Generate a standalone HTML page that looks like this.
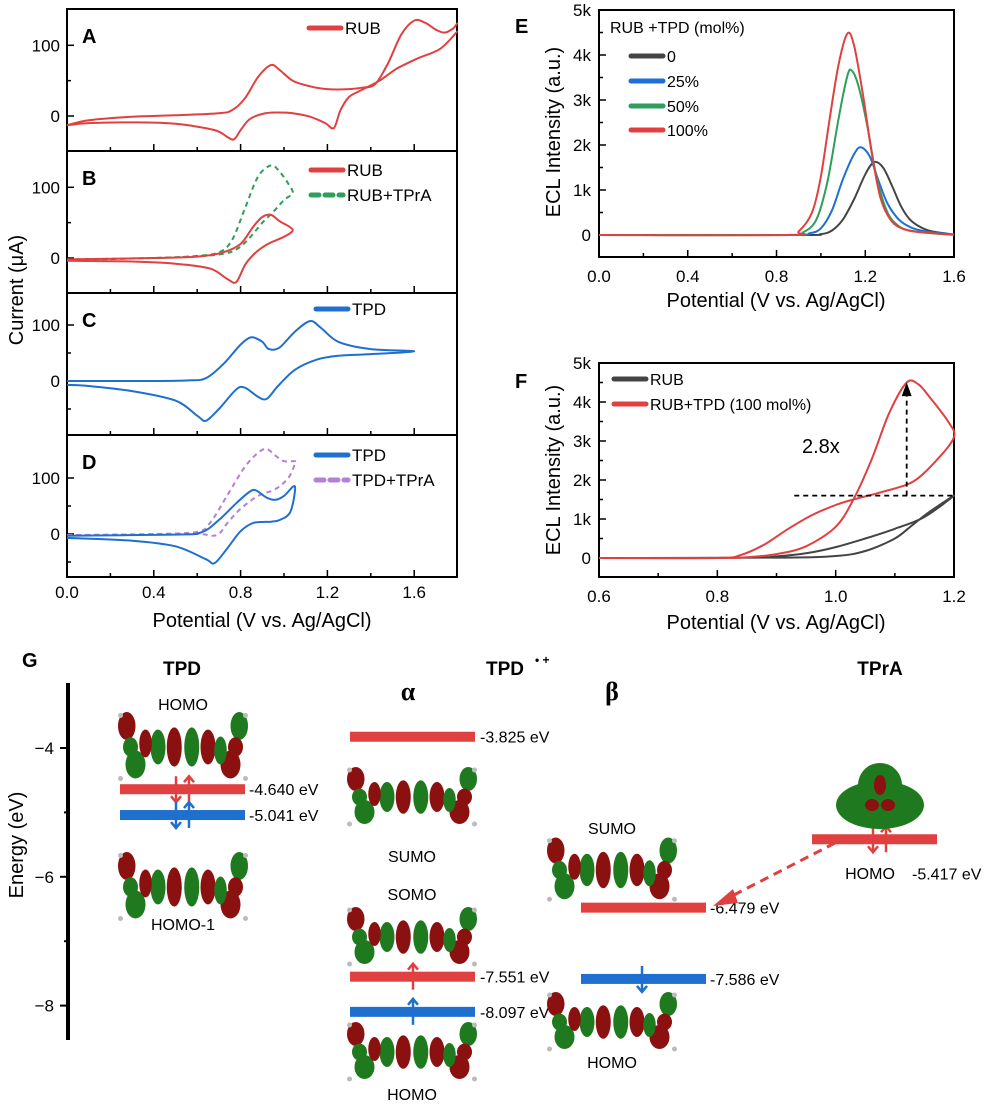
<!DOCTYPE html>
<html><head><meta charset="utf-8">
<style>
html,body{margin:0;padding:0;background:#fff;}
svg{display:block;font-family:"Liberation Sans","DejaVu Sans",sans-serif;}
</style></head>
<body>
<svg id="fig" width="1003" height="1106" viewBox="0 0 1003 1106" xmlns="http://www.w3.org/2000/svg"></svg>
<script>
// ---------- DATA ----------
const xTicksCV = [0.0,0.4,0.8,1.2,1.6];
const xTicksE = [0.0,0.4,0.8,1.2,1.6];
const xTicksF = [0.6,0.8,1.0,1.2];
const yTicksK = [0,1,2,3,4,5];
const rubA_fwd = [[0,-13],[0.1,-6],[0.3,-1],[0.5,1],[0.7,4],[0.76,8],[0.82,25],[0.88,55],[0.94,72],[0.98,65],[1.04,50],[1.12,42],[1.2,38],[1.3,38],[1.36,40],[1.42,45],[1.48,75],[1.54,115],[1.6,135],[1.65,132],[1.7,122],[1.74,118],[1.78,124],[1.8,132]];
const rubA_rev = [[1.8,120],[1.72,95],[1.62,82],[1.52,67],[1.44,50],[1.36,37],[1.3,27],[1.26,8],[1.23,-17],[1.19,-10],[1.12,-1],[1.04,4],[0.96,5],[0.9,3],[0.84,-5],[0.8,-20],[0.77,-33],[0.74,-30],[0.68,-20],[0.5,-11],[0.3,-9],[0.1,-10],[0,-13]];
const rubB = [[0,-2],[0.4,0],[0.6,2],[0.72,8],[0.8,20],[0.86,45],[0.9,58],[0.94,61],[0.98,52],[1.04,40],[1.0,30],[0.94,22],[0.9,15],[0.86,5],[0.82,-10],[0.78,-34],[0.74,-30],[0.66,-15],[0.5,-8],[0.3,-5],[0,-4]];
const rubTprB = [[0,-2],[0.4,0],[0.6,3],[0.7,8],[0.76,25],[0.82,70],[0.88,115],[0.94,131],[0.98,122],[1.02,105],[1.04,92],[1.0,82],[0.95,65],[0.9,50],[0.84,28],[0.78,12],[0.7,5],[0.5,1],[0,-3]];
const tpdC = [[0,0],[0.4,0],[0.56,1],[0.64,5],[0.72,30],[0.8,65],[0.85,78],[0.9,70],[0.93,57],[0.98,60],[1.05,88],[1.12,107],[1.17,95],[1.25,70],[1.4,57],[1.6,53],[1.4,48],[1.25,45],[1.15,38],[1.05,20],[0.97,-10],[0.92,-32],[0.88,-28],[0.82,-12],[0.78,-15],[0.7,-50],[0.64,-71],[0.6,-62],[0.5,-35],[0.3,-18],[0.1,-9],[0,-7]];
const tpdD = [[0,-3],[0.5,-1],[0.62,3],[0.7,25],[0.78,55],[0.84,75],[0.87,78],[0.92,65],[0.96,61],[1.0,68],[1.05,85],[1.03,40],[0.98,25],[0.94,22],[0.86,20],[0.8,5],[0.74,-25],[0.68,-52],[0.64,-45],[0.5,-22],[0.3,-12],[0,-7]];
const tpdTprD = [[0,-2],[0.4,0],[0.6,4],[0.66,20],[0.74,70],[0.82,120],[0.88,145],[0.92,152],[0.96,140],[1.0,130],[1.05,130],[1.05,125],[1.02,100],[0.96,80],[0.88,68],[0.8,45],[0.74,20],[0.7,0],[0.66,-3],[0.6,0],[0.3,-1],[0,-2]];
const ecl0 = [[0,0],[0.9,0],[1.0,20],[1.05,100],[1.1,350],[1.15,800],[1.2,1350],[1.24,1620],[1.28,1500],[1.32,1100],[1.36,650],[1.4,350],[1.45,170],[1.5,80],[1.6,10]];
const ecl25 = [[0,0],[0.85,0],[0.95,40],[1.0,150],[1.05,550],[1.1,1250],[1.15,1800],[1.18,1950],[1.22,1750],[1.26,1200],[1.3,700],[1.35,350],[1.4,180],[1.45,100],[1.5,60],[1.6,10]];
const ecl50 = [[0,0],[0.85,0],[0.92,60],[0.98,350],[1.03,1200],[1.08,2600],[1.12,3550],[1.14,3650],[1.17,3300],[1.21,2400],[1.25,1300],[1.3,500],[1.35,200],[1.4,100],[1.5,40],[1.6,5]];
const ecl100 = [[0,0],[0.85,0],[0.9,80],[0.96,500],[1.0,1300],[1.04,2600],[1.08,3800],[1.12,4480],[1.15,4200],[1.19,3100],[1.23,1800],[1.27,800],[1.32,300],[1.38,120],[1.45,60],[1.6,5]];
const fRubTpd = [[0.6,0],[0.8,0],[0.85,20],[0.9,100],[0.95,300],[1.0,800],[1.03,1500],[1.06,2500],[1.09,3700],[1.12,4500],[1.14,4450],[1.16,4100],[1.19,3500],[1.2,3100],[1.17,2500],[1.13,1950],[1.08,1700],[1.03,1500],[1.0,1360],[0.96,1100],[0.92,750],[0.88,350],[0.84,80],[0.8,0],[0.6,0]];
const fRub = [[0.6,0],[0.9,10],[1.0,50],[1.05,180],[1.1,500],[1.13,850],[1.16,1200],[1.2,1600],[1.15,1050],[1.1,750],[1.05,500],[1.0,280],[0.95,120],[0.9,40],[0.85,5],[0.6,0]];
const levelNames = ["tpd-homo","tpd-homo-1","alpha-sumo","alpha-somo","alpha-homo","beta-sumo","beta-homo","tpra-homo"];
const levelEnergies = [-4.640,-5.041,-3.825,-7.551,-8.097,-6.479,-7.586,-5.417];
const energyTicks = [-4,-6,-8];

// ---------- HELPERS ----------
const svg = document.getElementById('fig');
const NS = 'http://www.w3.org/2000/svg';
function mk(tag, attrs, parent){
  const e = document.createElementNS(NS, tag);
  for (const k in attrs) e.setAttribute(k, attrs[k]);
  (parent||svg).appendChild(e);
  return e;
}
function txt(x,y,s,size,opts,parent){
  opts = opts||{};
  const t = mk('text',{x:x,y:y,'font-size':size,'text-anchor':opts.anchor||'start',fill:opts.fill||'#000','font-weight':opts.weight||'normal'},parent);
  if(opts.family) t.setAttribute('font-family',opts.family);
  if(opts.rot) t.setAttribute('transform','rotate(-90 '+x+' '+y+')');
  t.textContent = s;
  return t;
}
function smoothPath(pts){
  if(pts.length<2) return '';
  let d = 'M'+pts[0][0].toFixed(1)+','+pts[0][1].toFixed(1);
  for(let i=0;i<pts.length-1;i++){
    const p0=pts[Math.max(0,i-1)],p1=pts[i],p2=pts[i+1],p3=pts[Math.min(pts.length-1,i+2)];
    const t=0.16;
    const c1x=p1[0]+(p2[0]-p0[0])*t, c1y=p1[1]+(p2[1]-p0[1])*t;
    const c2x=p2[0]-(p3[0]-p1[0])*t, c2y=p2[1]-(p3[1]-p1[1])*t;
    d+=' C'+c1x.toFixed(1)+','+c1y.toFixed(1)+' '+c2x.toFixed(1)+','+c2y.toFixed(1)+' '+p2[0].toFixed(1)+','+p2[1].toFixed(1);
  }
  return d;
}
function curve(data, sx, sy, color, name, dash, w){
  const pts = data.map(p=>[sx(p[0]), sy(p[1])]);
  const p = mk('path',{d:smoothPath(pts),fill:'none',stroke:color,'stroke-width':w||2,'stroke-linejoin':'round'});
  if(dash) p.setAttribute('stroke-dasharray',dash);
  
  
  return p;
}
const RED='#e0403f', GREEN='#2e9e5b', BLUE='#1f6fcf', PURPLE='#b47fd6', GRAY='#444', EBLUE='#1d6fd6', EGREEN='#2e9e5b';

// ---------- CV PANELS A-D ----------
const cvX = v => 67 + v*217;
const panels = [
  {name:'A', top:9, bot:151, zero:116, k:0.707, ticks:[0,100]},
  {name:'B', top:151, bot:293, zero:258, k:0.707, ticks:[0,100]},
  {name:'C', top:293, bot:435, zero:381, k:0.56, ticks:[0,100]},
  {name:'D', top:435, bot:577, zero:534, k:0.56, ticks:[0,100]}
];
panels.forEach(P=>{
  const g = mk('g',{});
  
  
  const r = mk('rect',{x:67,y:P.top,width:390,height:P.bot-P.top,fill:'none',stroke:'#000','stroke-width':2},g);
   
  P.ticks.forEach(t=>{
    const y = P.zero - t*P.k;
    mk('line',{x1:67,y1:y,x2:74,y2:y,stroke:'#000','stroke-width':1.5},g);
    const lb = txt(60,y+6,String(t),17,{anchor:'end'},g);
     
  });
  [-50,50].forEach(t=>{const y=P.zero-t*P.k; if(y>P.top+3&&y<P.bot-3) mk('line',{x1:67,y1:y,x2:71,y2:y,stroke:'#000','stroke-width':1.5},g);});
  for(let v=0.2; v<1.79; v+=0.2){
    const x=cvX(v), major = Math.round(v*10)%4===0;
    mk('line',{x1:x,y1:P.bot,x2:x,y2:P.bot-(major?7:4),stroke:'#000','stroke-width':1.5},g);
  }
  const lt = txt(82,P.top+34,P.name,20,{weight:'bold'},g);
   
  P.g=g;
});
const sA = i=>panels[0].zero - i*panels[0].k;
const sB = i=>panels[1].zero - i*panels[1].k;
const sC = i=>panels[2].zero - i*panels[2].k;
const sD = i=>panels[3].zero - i*panels[3].k;
curve(rubA_fwd,cvX,sA,RED,'rub-cv-forward');
curve(rubA_rev,cvX,sA,RED,'rub-cv-reverse');
curve(rubTprB,cvX,sB,GREEN,'rub-tpra-cv','5,4');
curve(rubB,cvX,sB,RED,'rub-cv-b');
curve(tpdC,cvX,sC,BLUE,'tpd-cv');
curve(tpdTprD,cvX,sD,PURPLE,'tpd-tpra-cv','5,4');
curve(tpdD,cvX,sD,BLUE,'tpd-cv-d');
function legend(x,y,color,label,dash,name,size){
  const l = mk('line',{x1:x,y1:y,x2:x+32,y2:y,stroke:color,'stroke-width':5,'stroke-linecap':'round'});
  if(dash) l.setAttribute('stroke-dasharray',dash);
   
  const t = txt(x+36,y+6,label,size||17);
   
}
legend(309,28,RED,'RUB',null,'legend-rub-a');
legend(311,170,RED,'RUB',null,'legend-rub-b');
legend(311,195,GREEN,'RUB+TPrA','8,6','legend-rub-tpra');
legend(316,309,BLUE,'TPD',null,'legend-tpd-c');
legend(316,455,BLUE,'TPD',null,'legend-tpd-d');
legend(316,480,PURPLE,'TPD+TPrA','8,6','legend-tpd-tpra');
xTicksCV.forEach(v=>{const t=txt(cvX(v),598,v.toFixed(1),17,{anchor:'middle'});  });
{const t=txt(262,627,'Potential (V vs. Ag/AgCl)',20,{anchor:'middle'});  }
{const t=txt(23,290,'Current (μA)',20,{anchor:'middle',rot:true});  }

// ---------- PANEL E ----------
const eX = v => 599 + v*221.9;
const eY = k => 235 - k*0.045;
{
  const r=mk('rect',{x:599,y:10,width:355,height:247,fill:'none',stroke:'#000','stroke-width':2});
   
  yTicksK.forEach(k=>{const y=eY(k*1000); mk('line',{x1:599,y1:y,x2:606,y2:y,stroke:'#000','stroke-width':1.5});
    const t=txt(591,y+6,k===0?'0':k+'k',17,{anchor:'end'});  
    if(k<5) mk('line',{x1:599,y1:y-22.5,x2:603,y2:y-22.5,stroke:'#000','stroke-width':1.5});});
  for(let v=0.2;v<1.59;v+=0.2){const major=Math.round(v*10)%4===0; mk('line',{x1:eX(v),y1:257,x2:eX(v),y2:257-(major?7:4),stroke:'#000','stroke-width':1.5});}
  xTicksE.forEach(v=>{const t=txt(eX(v),282,v.toFixed(1),17,{anchor:'middle'});  });
  const tt=txt(776,307,'Potential (V vs. Ag/AgCl)',20,{anchor:'middle'});  
  const ty=txt(560,132,'ECL Intensity (a.u.)',20,{anchor:'middle',rot:true});  
  const pl=txt(515,33,'E',20,{weight:'bold'});  
  curve(ecl0,eX,eY,GRAY,'ecl-0');
  curve(ecl25,eX,eY,EBLUE,'ecl-25');
  curve(ecl50,eX,eY,EGREEN,'ecl-50');
  curve(ecl100,eX,eY,RED,'ecl-100');
  const lt=txt(610,33,'RUB +TPD (mol%)',16);  
  legend(631,56,GRAY,'0',null,'legend-0',16);
  legend(631,81,EBLUE,'25%',null,'legend-25',16);
  legend(631,106,EGREEN,'50%',null,'legend-50',16);
  legend(631,130,RED,'100%',null,'legend-100',16);
}

// ---------- PANEL F ----------
const fX = v => 599 + (v-0.6)*591.7;
const fY = k => 558 - k*0.039;
{
  const r=mk('rect',{x:599,y:363,width:355,height:214,fill:'none',stroke:'#000','stroke-width':2});
   
  yTicksK.forEach(k=>{const y=fY(k*1000); mk('line',{x1:599,y1:y,x2:606,y2:y,stroke:'#000','stroke-width':1.5});
    const t=txt(591,y+6,k===0?'0':k+'k',17,{anchor:'end'});  
    if(k<5) mk('line',{x1:599,y1:y-19.5,x2:603,y2:y-19.5,stroke:'#000','stroke-width':1.5});});
  for(let v=0.7;v<1.19;v+=0.1){const major=Math.round(v*10)%2===0; mk('line',{x1:fX(v),y1:577,x2:fX(v),y2:577-(major?7:4),stroke:'#000','stroke-width':1.5});}
  xTicksF.forEach(v=>{const t=txt(fX(v),602,v.toFixed(1),17,{anchor:'middle'});  });
  const tt=txt(776,629,'Potential (V vs. Ag/AgCl)',20,{anchor:'middle'});  
  const ty=txt(560,470,'ECL Intensity (a.u.)',20,{anchor:'middle',rot:true});  
  const pl=txt(515,388,'F',20,{weight:'bold'});  
  curve(fRub,fX,fY,GRAY,'ecl-rub-f');
  curve(fRubTpd,fX,fY,RED,'ecl-rub-tpd-f');
  const hl=mk('line',{x1:fX(0.93),y1:fY(1600),x2:fX(1.2),y2:fY(1600),stroke:'#000','stroke-width':1.8,'stroke-dasharray':'5,4'});
   
  const vl=mk('line',{x1:fX(1.12),y1:fY(1600),x2:fX(1.12),y2:fY(4300),stroke:'#000','stroke-width':1.8,'stroke-dasharray':'5,4'});
   
  const ah=mk('path',{d:'M'+(fX(1.12)-5)+','+(fY(4150))+' L'+fX(1.12)+','+fY(4500)+' L'+(fX(1.12)+5)+','+fY(4150)+' Z',fill:'#000'});
   
  const t28=txt(802,453,'2.8x',20);  
  legend(614,379,GRAY,'RUB',null,'legend-rub-f',16);
  legend(614,404,RED,'RUB+TPD (100 mol%)',null,'legend-rub-tpd-f',16);
}

// ---------- PANEL G ----------
const gY = E => 748 + (-4 - E)*64.4;
{
  const ax=mk('line',{x1:68,y1:683,x2:68,y2:1040,stroke:'#000','stroke-width':4});
   
  energyTicks.forEach(e=>{const y=gY(e); mk('line',{x1:60,y1:y,x2:68,y2:y,stroke:'#000','stroke-width':2});
    const t=txt(54,y+6,'−'+Math.abs(e),17,{anchor:'end'});  });
  [-5,-7].forEach(e=>mk('line',{x1:64,y1:gY(e),x2:68,y2:gY(e),stroke:'#000','stroke-width':2}));
  const ty=txt(23,845,'Energy (eV)',20,{anchor:'middle',rot:true});  
  const pl=txt(22,667,'G',20,{weight:'bold'});  
  const h1=txt(182,675,'TPD',19,{anchor:'middle',weight:'bold'});  
  const h2=txt(505,675,'TPD',19,{anchor:'middle',weight:'bold'});  
  const h2b=txt(535,664,'• +',12,{weight:'bold'});  
  const h3=txt(880,675,'TPrA',19,{anchor:'middle',weight:'bold'});  
  const al=txt(408,700,'α',26,{anchor:'middle',weight:'bold',family:'"Liberation Serif",serif'});  
  const be=txt(612,700,'β',26,{anchor:'middle',weight:'bold',family:'"Liberation Serif",serif'});  
}
// level bars
const barX = [[120,245,RED],[120,245,BLUE],[350,475,RED],[350,475,RED],[350,475,BLUE],[581,706,RED],[581,706,BLUE],[812,937,RED]];
const labX = [249,249,480,480,480,710,710,912];
const labDy = [6,6,6,6,6,6,6,40];
levelEnergies.forEach((e,i)=>{
  const y=gY(e), b=barX[i];
  const r=mk('rect',{x:b[0],y:y-5,width:b[1]-b[0],height:10,fill:b[2]});
  
  
  const t=txt(labX[i],y+labDy[i],e.toFixed(3)+' eV',16);
  
  
});
function spin(x,E,up,color){
  const y=gY(E);
  const y1 = up? y+13 : y-13, y2 = up? y-13 : y+13;
  const g=mk('g',{});
  
  
  mk('line',{x1:x,y1:y1,x2:x,y2:y2,stroke:color,'stroke-width':2.5},g);
  const d = up? 'M'+(x-5)+','+(y2+6)+' L'+x+','+y2+' L'+(x+5)+','+(y2+6) : 'M'+(x-5)+','+(y2-6)+' L'+x+','+y2+' L'+(x+5)+','+(y2-6);
  mk('path',{d:d,fill:'none',stroke:color,'stroke-width':2.5},g);
}
spin(176,-4.640,false,RED); spin(189,-4.640,true,RED);
spin(176,-5.041,false,BLUE); spin(189,-5.041,true,BLUE);
spin(413,-7.551,true,RED); spin(413,-8.097,true,BLUE);
spin(642,-7.586,false,BLUE);
spin(873,-5.417,false,RED); spin(886,-5.417,true,RED);
// orbital labels
[['HOMO',183,710],['HOMO-1',183,930],['SUMO',412,862],['SOMO',412,900],['HOMO',412,1100],['SUMO',612,834],['HOMO',612,1068],['HOMO',870,879]].forEach(a=>{
  const t=txt(a[1],a[2],a[0],16,{anchor:'middle'});  
});
// orbitals (decorative blobs)
const blobPattern = [[-0.45,-0.3,0.07,0.2,1],[-0.38,0.25,0.08,0.2,0],[-0.42,0.0,0.06,0.14,0],[0.45,-0.3,0.07,0.2,0],[0.38,0.25,0.08,0.2,1],[0.42,0.0,0.06,0.14,1],[-0.2,0,0.06,0.25,0],[-0.07,0,0.06,0.28,1],[0.07,0,0.06,0.28,0],[0.2,0,0.06,0.25,1],[-0.3,-0.05,0.05,0.2,1],[0.3,0.05,0.05,0.2,0]];
function orbital(cx,cy,w,h,name){
  const g=mk('g',{});
  
  
  blobPattern.forEach(b=>{
    mk('ellipse',{cx:cx+b[0]*w,cy:cy+b[1]*h,rx:b[2]*w,ry:b[3]*h,fill:b[4]?'#8b1010':'#1f7a1f'},g);
  });
  [[-0.5,-0.45],[0.5,-0.45],[-0.5,0.45],[0.5,0.45]].forEach(p=>mk('circle',{cx:cx+p[0]*w,cy:cy+p[1]*h,r:2.5,fill:'#bbb'},g));
}
orbital(183,747,125,70,'tpd-homo-orbital');
orbital(183,887,125,70,'tpd-homo-1-orbital');
orbital(412,797,125,60,'alpha-sumo-orbital');
orbital(412,937,125,60,'alpha-somo-orbital');
orbital(412,1052,125,60,'alpha-homo-orbital');
orbital(612,870,125,65,'beta-sumo-orbital');
orbital(612,1022,125,60,'beta-homo-orbital');
{
  const g=mk('g',{});  
  mk('ellipse',{cx:880,cy:805,rx:44,ry:24,fill:'#1f7a1f'},g);
  mk('ellipse',{cx:880,cy:785,rx:22,ry:22,fill:'#1f7a1f'},g);
  mk('ellipse',{cx:872,cy:805,rx:7,ry:6,fill:'#8b1010'},g);
  mk('ellipse',{cx:888,cy:805,rx:7,ry:6,fill:'#8b1010'},g);
  mk('ellipse',{cx:880,cy:785,rx:6,ry:10,fill:'#8b1010'},g);
}
// transfer arrow
{
  const l=mk('line',{x1:835,y1:843,x2:728,y2:898,stroke:RED,'stroke-width':3,'stroke-dasharray':'9,6'});
   
  const h=mk('path',{d:'M713,906 L733,889 L738,903 Z',fill:RED});
   
}
</script>
</body></html>
